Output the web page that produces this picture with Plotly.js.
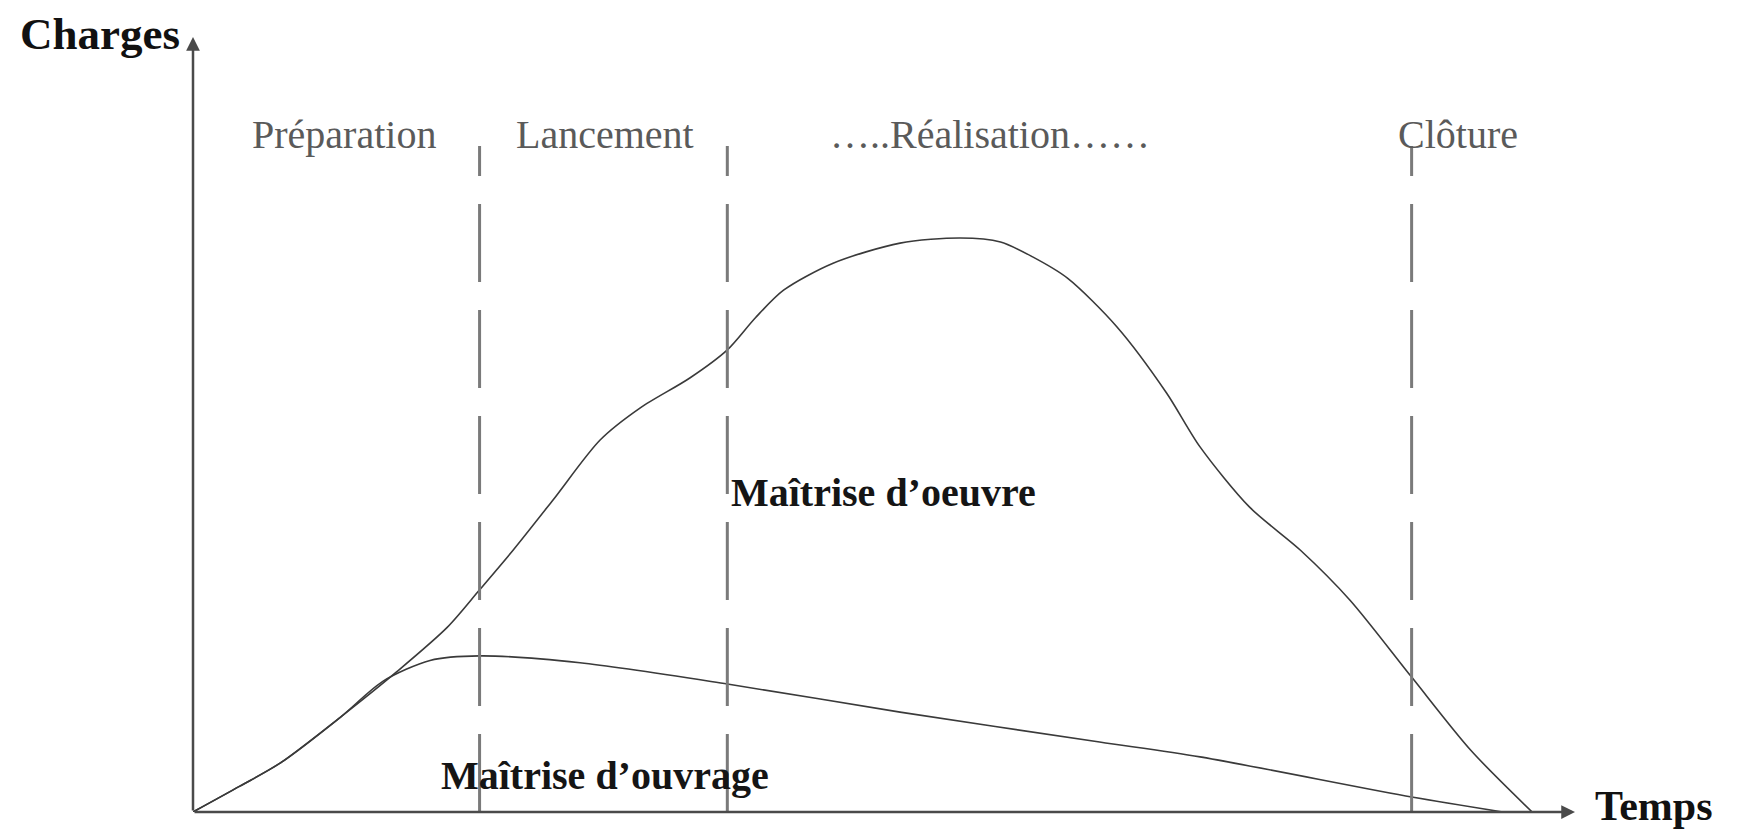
<!DOCTYPE html>
<html>
<head>
<meta charset="utf-8">
<script src="https://cdn.plot.ly/plotly-3.0.1.min.js"></script>
<style>html,body{margin:0;padding:0;background:#fff;}#chart{width:1739px;height:834px;}</style>
</head>
<body>
<div id="chart"></div>
<script>
// Time (0..100) and charge (0..100, peak of maîtrise d'oeuvre = 100)
const oeuvreTime = [0,3.5,6.5,11,15.2,19,21.4,23.9,26.9,30.4,33.4,37.1,39.9,42,44.1,47.8,52.8,57.3,60.3,62.7,65.3,69,72.7,75.2,78.9,82.7,86.4,91,95.4,100];
const oeuvreCharge = [0,4.5,8.5,16.5,24.4,32.2,38.7,45.6,54.4,64.8,70.4,75.6,80.5,86.1,90.9,95.6,99.1,100,99.3,96.7,93,84.5,73,63.6,53.1,45.6,36.9,23.5,10.8,0];
const ouvrageTime = [0,3.5,6.5,11,14.2,17.7,21.4,28.9,39.9,52.8,67.7,75.2,91,97.8];
const ouvrageCharge = [0,4.5,8.5,16.5,22.8,26.4,27.2,26,22.3,17.4,12.2,9.6,2.6,0];

const phaseNames = ['Préparation','Lancement','…..Réalisation……','Clôture'];
const phaseLabelX = [11.3, 30.8, 59.5, 94.5];
const phaseBounds = [21.4, 39.9, 91.0];

const seriesNames = ['Maîtrise d’oeuvre','Maîtrise d’ouvrage'];
const axisNames = ['Charges','Temps'];

const xMax = 103.2, yMax = 135;
const serif = '"Liberation Serif", "Times New Roman", serif';

const traces = [
  {x: oeuvreTime, y: oeuvreCharge, mode:'lines', line:{color:'#3a3a3a', width:1.6, shape:'spline', smoothing:0.8}, cliponaxis:false, hoverinfo:'skip'},
  {x: ouvrageTime, y: ouvrageCharge, mode:'lines', line:{color:'#3a3a3a', width:1.6, shape:'spline', smoothing:0.8}, cliponaxis:false, hoverinfo:'skip'}
];

const shapes = phaseBounds.map(b => ({
  type:'line', xref:'x', yref:'y', x0:b, x1:b, y0:0, y1:116,
  line:{color:'#7a7a7a', width:3, dash:'78px,28px'}
}));

const annotations = [];
// axes with arrowheads
annotations.push({xref:'x', yref:'y', axref:'x', ayref:'y', x:0, y:yMax, ax:0, ay:0, text:'', showarrow:true, arrowhead:2, arrowsize:1.1, arrowwidth:2.5, arrowcolor:'#4a4a4a', standoff:0, startstandoff:0});
annotations.push({xref:'x', yref:'y', axref:'x', ayref:'y', x:xMax, y:0, ax:0, ay:0, text:'', showarrow:true, arrowhead:2, arrowsize:1.1, arrowwidth:2.5, arrowcolor:'#4a4a4a', standoff:0, startstandoff:0});
// axis names (paper coordinates, outside the plot area)
annotations.push({xref:'paper', yref:'paper', x:-0.0673, y:1.004, text:'<b>'+axisNames[0]+'</b>', showarrow:false, xanchor:'center', yanchor:'middle', font:{family:serif, size:45, color:'#111'}});
annotations.push({xref:'paper', yref:'paper', x:1.0130, y:0.008, text:'<b>'+axisNames[1]+'</b>', showarrow:false, xanchor:'left', yanchor:'middle', font:{family:serif, size:42, color:'#111'}});
// phase labels
phaseNames.forEach((n,i) => annotations.push({xref:'x', yref:'y', x:phaseLabelX[i], y:118, text:n, showarrow:false, xanchor:'center', yanchor:'middle', font:{family:serif, size:40, color:'#5a5a5a'}}));
// series labels
annotations.push({xref:'x', yref:'y', x:40.0, y:55.6, text:'<b>'+seriesNames[0]+'</b>', showarrow:false, xanchor:'left', yanchor:'middle', font:{family:serif, size:40, color:'#151515'}});
annotations.push({xref:'x', yref:'y', x:30.8, y:6.3, text:'<b>'+seriesNames[1]+'</b>', showarrow:false, xanchor:'center', yanchor:'middle', font:{family:serif, size:40, color:'#151515'}});

const layout = {
  width:1739, height:834,
  margin:{l:193, r:164, t:37, b:22, pad:0},
  paper_bgcolor:'#fff', plot_bgcolor:'#fff',
  showlegend:false,
  xaxis:{range:[0,xMax], showgrid:false, zeroline:false, showticklabels:false, showline:false, ticks:'', fixedrange:true},
  yaxis:{range:[0,yMax], showgrid:false, zeroline:false, showticklabels:false, showline:false, ticks:'', fixedrange:true},
  shapes: shapes,
  annotations: annotations
};

Plotly.newPlot('chart', traces, layout, {staticPlot:true, displayModeBar:false});
</script>
</body>
</html>
